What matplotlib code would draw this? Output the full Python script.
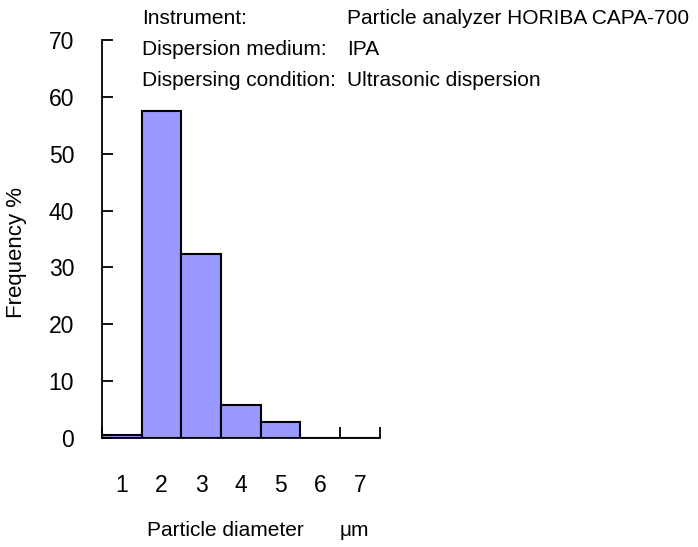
import numpy as np
import matplotlib
matplotlib.use('Agg')
import matplotlib.pyplot as plt

plt.rcParams['font.family'] = ['Liberation Sans', 'DejaVu Sans']

# particle size distribution
diameters = [1, 2, 3, 4, 5, 6, 7]
frequency = [0.6, 57.5, 32.3, 5.8, 2.9, 0, 0]
y_ticks = [0, 10, 20, 30, 40, 50, 60, 70]

info_labels = ['Instrument:', 'Dispersion medium:', 'Dispersing condition:']
info_values = ['Particle analyzer HORIBA CAPA-700', 'IPA', 'Ultrasonic dispersion']

fig = plt.figure(figsize=(6.98, 5.47), dpi=100)
ax = fig.add_axes([0.146, 0.199, 0.398, 0.728])

ax.bar(diameters, frequency, width=1.0, color='#9999ff', edgecolor='black', linewidth=1.5)

ax.set_xlim(0.5, 7.5)
ax.set_ylim(0, 70)
ax.set_yticks(y_ticks)
ax.set_xticks(diameters)
ax.set_xticks(np.arange(0.5, 8, 1), minor=True)

ax.spines['top'].set_visible(False)
ax.spines['right'].set_visible(False)
ax.spines['left'].set_linewidth(1.3)
ax.spines['bottom'].set_linewidth(1.3)

ax.tick_params(axis='y', direction='in', length=8, width=1.3, labelsize=16.5, pad=20)
ax.tick_params(axis='x', which='major', length=0, labelsize=16.5, pad=26)
ax.tick_params(axis='x', which='minor', direction='in', length=8, width=1.3)

fig.text(17 / 698, 1 - 252 / 547, 'Frequency %', rotation=90, fontsize=16, ha='center', va='center')
fig.text(147 / 698, 1 - 530 / 547, 'Particle diameter', fontsize=15, ha='left', va='center')
fig.text(340 / 698, 1 - 530 / 547, '\u03bcm', fontsize=15, ha='left', va='center')

for i, (lab, val) in enumerate(zip(info_labels, info_values)):
    yy = 1 - (18 + i * 31.5) / 547
    fig.text(142 / 698, yy, lab, fontsize=15, ha='left', va='center')
    fig.text(347 / 698, yy, val, fontsize=15, ha='left', va='center')

plt.savefig('out.png', dpi=100)
